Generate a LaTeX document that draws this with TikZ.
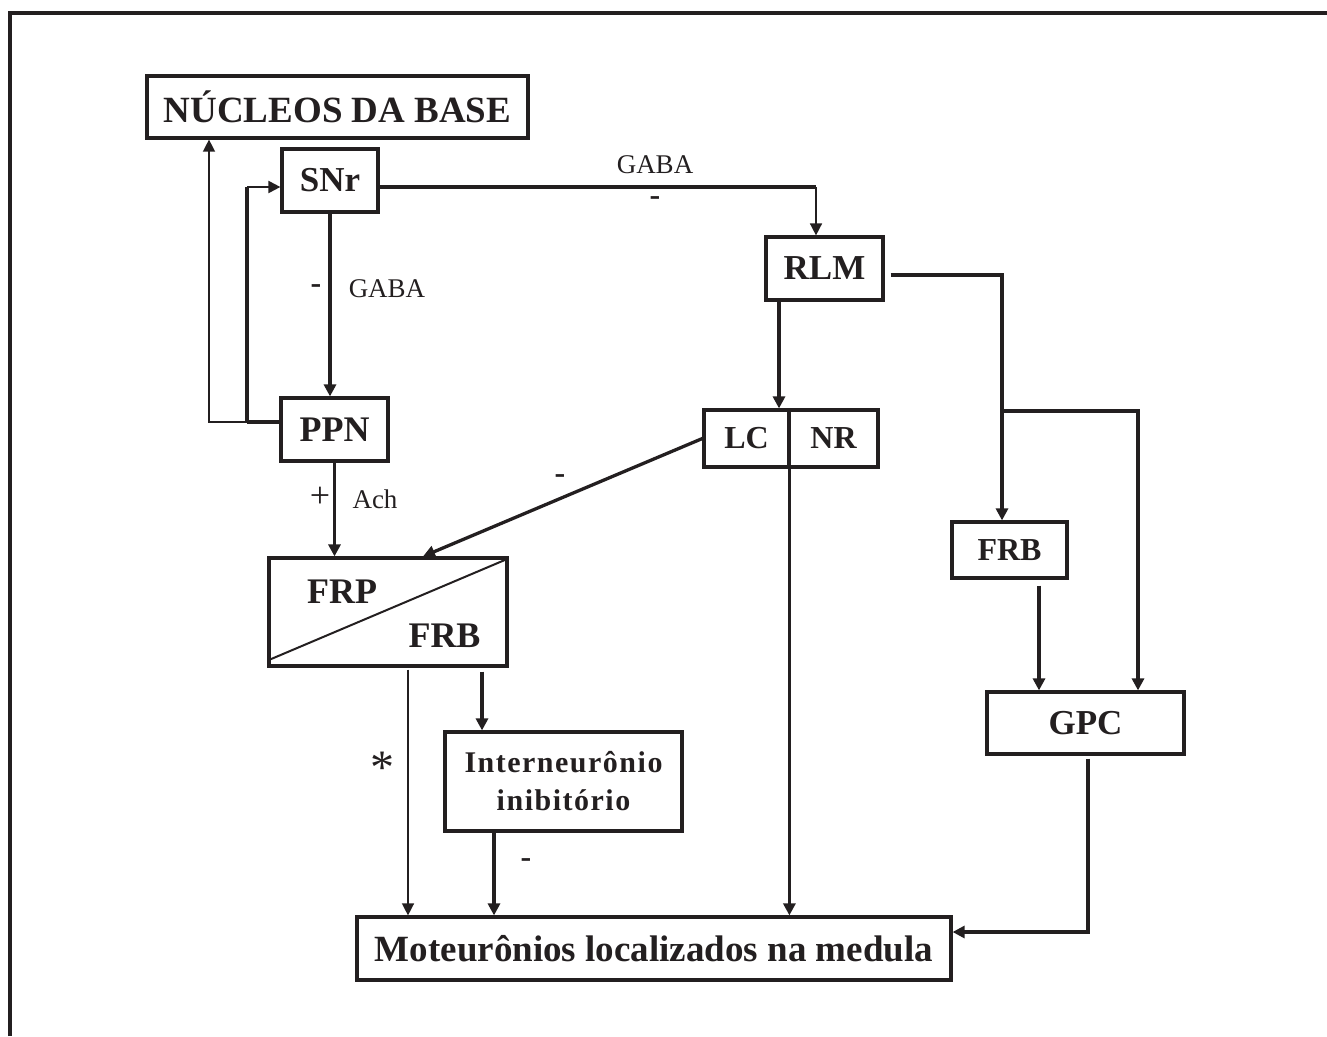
\documentclass[tikz,border=0pt]{standalone}
\usepackage{fontspec}
\setmainfont{Liberation Serif}
\newfontfamily\spacedfont{Liberation Serif}[LetterSpace=5]
\usetikzlibrary{arrows.meta,calc}
\definecolor{ink}{RGB}{35,31,32}
\begin{document}
\begin{tikzpicture}[x=1pt,y=-1pt,line join=miter,
  box/.style={draw=ink,line width=3.2pt,rectangle,inner sep=0pt,text=ink},
  thk/.style={draw=ink,line width=3.3pt},
  thn/.style={draw=ink,line width=1.4pt},
  mdl/.style={draw=ink,line width=2pt},
  tip/.style={-{Triangle[length=12pt,width=12pt]}},
  lbl/.style={text=ink,inner sep=0pt},
  bigb/.style={font=\bfseries\fontsize{36}{40}\selectfont},
  midb/.style={font=\bfseries\fontsize{32}{36}\selectfont},
  reg/.style={font=\fontsize{27}{30}\selectfont}]
\useasboundingbox (0,0) rectangle (1327,1036);
% outer frame (partly visible)
\coordinate (fa) at (10,1036);
\coordinate (fb) at (10,13);
\coordinate (fc) at (1327,13);
\draw[thk,line width=3.8pt] (fa) -- (fb) -- (fc);

% boxes
\node[box,minimum width=381pt,minimum height=62pt,font=\bfseries\fontsize{37}{40}\selectfont] (nuc) at (337.5,107) {NÚCLEOS DA BASE};
\node[box,font=\bfseries\fontsize{35}{40}\selectfont,minimum width=96pt,minimum height=63pt] (snr) at (330,180.5) {SNr};
\node[box,bigb,minimum width=107pt,minimum height=63pt] (ppn) at (334.5,429.5) {PPN};
\node[box,minimum width=238pt,minimum height=108pt] (frp) at (388,612) {};
\node[box,font=\bfseries\fontsize{35}{40}\selectfont,minimum width=117pt,minimum height=63pt] (rlm) at (824.5,268.5) {RLM};
\node[box,midb,minimum width=85pt,minimum height=57pt] (lc) at (746.5,438.5) {LC};
\node[box,midb,minimum width=89pt,minimum height=57pt] (nr) at (833.5,438.5) {NR};
\node[box,midb,minimum width=115pt,minimum height=56pt] (frb2) at (1009.5,550) {FRB};
\node[box,font=\bfseries\fontsize{35}{40}\selectfont,minimum width=197pt,minimum height=62pt] (gpc) at (1085.5,723) {GPC};
\node[box,minimum width=237pt,minimum height=99pt,align=center,font=\bfseries\spacedfont\fontsize{30}{38}\selectfont] (inter) at (563.5,781.5) {Interneurônio\\inibitório};
\node[box,minimum width=594pt,minimum height=63pt,font=\bfseries\fontsize{37}{40}\selectfont] (mot) at (654,948.5) {Moteurônios localizados na medula};

% split box FRP / FRB
\draw[mdl] ([yshift=7pt]frp.south west) -- ([yshift=-2pt]frp.north east);
\node[lbl,bigb] (frpt) at (342,592) {FRP};
\node[lbl,bigb] (frbt) at (444.5,636) {FRB};

% labels
\node[lbl,reg] (gaba1) at (655,165) {GABA};
\node[lbl,font=\bfseries\fontsize{32}{34}\selectfont] (m1) at (655,201) {-};
\node[lbl,font=\bfseries\fontsize{32}{34}\selectfont] (m2) at (316,289) {-};
\node[lbl,reg] (gaba2) at (387,289) {GABA};
\node[lbl,font=\fontsize{36}{38}\selectfont] (plus) at (320,497) {+};
\node[lbl,reg] (ach) at (375,499) {Ach};
\node[lbl,font=\bfseries\fontsize{32}{34}\selectfont] (m3) at (560,479) {-};
\node[lbl,font=\bfseries\fontsize{32}{34}\selectfont] (m4) at (526,863) {-};
\node[lbl,font=\fontsize{48}{50}\selectfont] (star) at (382,768) {*};

% connectors
\coordinate (j0) at (209,422);
\coordinate (j1) at (247,422);
\coordinate (j2) at (247,187);
\draw[thk] (ppn.west |- j1) -- (j1);
\draw[thn,tip] (j1) -- (j0) -- (j0 |- nuc.south);
\draw[thk] (j1) -- (j2);
\draw[mdl,tip] (j2) -- (snr.west |- j2);
\draw[thk,tip] (snr.south) -- (snr.south |- ppn.north);
\draw[thk,tip] (ppn.south) -- (ppn.south |- frp.north);

\coordinate (k1) at (816,187);
\draw[thk] (snr.east |- k1) -- (k1);
\draw[mdl,line width=1.6pt,tip] (k1) -- (k1 |- rlm.north);
\draw[thk,tip] ([xshift=-45.5pt]rlm.south) -- ([xshift=-45.5pt]rlm.south |- lc.north);

\coordinate (k3) at (1002,275);
\coordinate (k4) at (1002,411);
\coordinate (k5) at (1138,411);
\draw[thk,tip] ([xshift=6pt]rlm.east |- k3) -- (k3) -- (k3 |- frb2.north);
\draw[thk,tip] (k4) -- (k5) -- (k5 |- gpc.north);
\draw[thk,tip] ([xshift=29.5pt,yshift=-6pt]frb2.south) -- ([xshift=29.5pt]frb2.south |- gpc.north);

\coordinate (k6) at (1088,932);
\draw[thk,tip] ([xshift=2.5pt,yshift=-3pt]gpc.south) -- (k6) -- (mot.east |- k6);

\draw[thk,tip] (lc.west) -- ([xshift=35pt]frp.north);
\draw[thk,tip] ([xshift=2pt]nr.south west) -- ([xshift=2pt]nr.south west |- mot.north);

\draw[thk,tip] ([xshift=94pt,yshift=-4pt]frp.south) -- ([xshift=94pt]frp.south |- inter.north);
\draw[thn,tip] ([xshift=20pt,yshift=-2pt]frp.south) -- ([xshift=20pt]frp.south |- mot.north);
\draw[thk,tip] ([xshift=-69.5pt]inter.south) -- ([xshift=-69.5pt]inter.south |- mot.north);
\end{tikzpicture}
\end{document}
